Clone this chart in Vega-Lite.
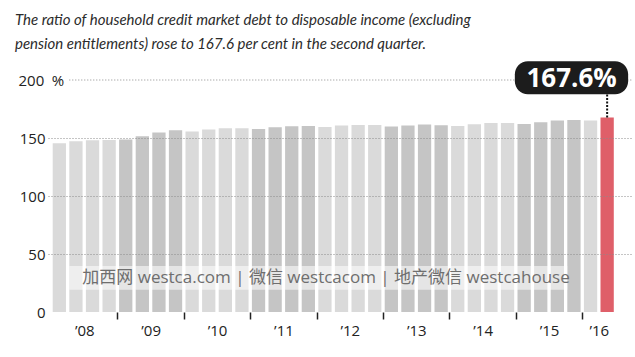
{
  "$schema": "https://vega.github.io/schema/vega-lite/v6.json",
  "width": 584,
  "height": 232,
  "autosize": "none",
  "padding": {"left": 48, "top": 80, "right": 3, "bottom": 45},
  "background": "white",
  "config": {"view": {"stroke": null}},
  "title": {
    "text": ["The ratio of household credit market debt to disposable income (excluding", "pension entitlements) rose to 167.6 per cent in the second quarter."],
    "anchor": "start",
    "frame": "group",
    "dx": -33,
    "dy": 1,
    "font": "Liberation Sans Narrow, Lato",
    "fontStyle": "italic",
    "fontWeight": "normal",
    "fontSize": 15,
    "lineHeight": 24,
    "color": "#2b2b2b",
    "offset": 10
  },
  "data": {
    "values": [
      {"q": "2008Q1", "value": 145.5}, {"q": "2008Q2", "value": 147.2}, {"q": "2008Q3", "value": 148.1}, {"q": "2008Q4", "value": 148.3},
      {"q": "2009Q1", "value": 148.7}, {"q": "2009Q2", "value": 151.5}, {"q": "2009Q3", "value": 154.7}, {"q": "2009Q4", "value": 156.7},
      {"q": "2010Q1", "value": 155.5}, {"q": "2010Q2", "value": 157.3}, {"q": "2010Q3", "value": 158.4}, {"q": "2010Q4", "value": 158.4},
      {"q": "2011Q1", "value": 157.8}, {"q": "2011Q2", "value": 159.3}, {"q": "2011Q3", "value": 160.1}, {"q": "2011Q4", "value": 160.4},
      {"q": "2012Q1", "value": 159.5}, {"q": "2012Q2", "value": 160.7}, {"q": "2012Q3", "value": 161.2}, {"q": "2012Q4", "value": 161.2},
      {"q": "2013Q1", "value": 159.9}, {"q": "2013Q2", "value": 160.7}, {"q": "2013Q3", "value": 161.6}, {"q": "2013Q4", "value": 161.0},
      {"q": "2014Q1", "value": 160.4}, {"q": "2014Q2", "value": 161.8}, {"q": "2014Q3", "value": 163.0}, {"q": "2014Q4", "value": 163.0},
      {"q": "2015Q1", "value": 162.1}, {"q": "2015Q2", "value": 163.6}, {"q": "2015Q3", "value": 165.0}, {"q": "2015Q4", "value": 165.5},
      {"q": "2016Q1", "value": 165.0}, {"q": "2016Q2", "value": 167.6}
    ]
  },
  "layer": [
    {
      "mark": {"type": "bar"},
      "encoding": {
        "x": {
          "field": "q",
          "type": "ordinal",
          "scale": {"paddingInner": 0.2, "paddingOuter": 0.69, "align": 0.205},
          "axis": {
            "title": null,
            "domain": false,
            "grid": false,
            "tickOffset": -8.3,
            "tickSize": 7,
            "tickWidth": 1.5,
            "tickColor": "#222222",
            "tickOpacity": {"condition": {"test": "slice(datum.value,4)=='Q1' && datum.value!='2008Q1'", "value": 1}, "value": 0},
            "labelExpr": "(slice(datum.value,4)=='Q3' || datum.value=='2016Q2') ? '’' + slice(datum.value,2,4) : ''",
            "labelAngle": 0,
            "labelFont": "Open Sans",
            "labelFontSize": 15,
            "labelColor": "#222222",
            "labelPadding": 4,
            "labelOverlap": false
          }
        },
        "y": {
          "field": "value",
          "type": "quantitative",
          "scale": {"domain": [0, 200], "nice": false},
          "axis": {
            "title": null,
            "values": [0, 50, 100, 150, 200],
            "ticks": false,
            "domain": false,
            "labelFont": "Open Sans",
            "labelFontSize": 15,
            "labelColor": "#222222",
            "labelBaseline": "middle",
            "labelPadding": {"condition": {"test": "datum.value==200", "value": 30}, "value": 3},
            "labelAlign": {"condition": {"test": "datum.value==200", "value": "left"}, "value": "right"},
            "labelExpr": "datum.value==200 ? '200\u2002%' : datum.label",
            "grid": true,
            "gridDash": [1, 2],
            "gridColor": "#8a8a8a",
            "gridOpacity": {"condition": {"test": "datum.value>0 && datum.value<200", "value": 1}, "value": 0},
            "zindex": 1
          }
        },
        "color": {
          "condition": [
            {"test": "datum.q=='2016Q2'", "value": "#df5f69"},
            {"test": "toNumber(slice(datum.q,0,4))%2==1", "value": "#c5c5c5"}
          ],
          "value": "#dadada"
        }
      }
    },
    {
      "transform": [{"filter": "datum.q=='2016Q2'"}],
      "mark": {"type": "rule", "strokeDash": [1, 2], "color": "#8a8a8a", "strokeWidth": 1},
      "encoding": {
        "x": {"datum": "2008Q2", "type": "ordinal", "bandPosition": 0},
        "x2": {"value": "width"},
        "y": {"datum": 200, "type": "quantitative"}
      }
    },
    {
      "transform": [{"filter": "datum.q=='2016Q2'"}],
      "mark": {"type": "rect", "color": "white", "opacity": 0.55},
      "encoding": {
        "x": {"datum": "2008Q2", "type": "ordinal", "bandPosition": 0},
        "x2": {"datum": "2015Q4", "bandPosition": 0},
        "y": {"datum": 19.2, "type": "quantitative"},
        "y2": {"datum": 39.6}
      }
    },
    {
      "transform": [{"filter": "datum.q=='2016Q2'"}],
      "mark": {"type": "text", "align": "left", "baseline": "middle", "dx": 13, "fontSize": 17, "font": "Open Sans, Noto Sans CJK SC", "color": "#6e6e6e", "text": "加西网 westca.com | 微信 westcacom | 地产微信 westcahouse"},
      "encoding": {
        "x": {"datum": "2008Q2", "type": "ordinal", "bandPosition": 0},
        "y": {"datum": 29.3, "type": "quantitative"}
      }
    },
    {
      "transform": [{"filter": "datum.q=='2016Q2'"}],
      "mark": {"type": "rule", "strokeDash": [2, 1.5], "color": "#111111", "strokeWidth": 2},
      "encoding": {
        "x": {"field": "q", "type": "ordinal"},
        "y": {"field": "value", "type": "quantitative"},
        "y2": {"datum": 188}
      }
    },
    {
      "transform": [{"filter": "datum.q=='2016Q2'"}],
      "mark": {"type": "point", "filled": true, "opacity": 1, "color": "#1c1c1c", "strokeWidth": 0, "size": 10000,
        "shape": "M-1.586,-0.33 L0.16,-0.33 A0.26,0.26 0 0 1 0.42,-0.07 L0.42,0.07 A0.26,0.26 0 0 1 0.16,0.33 L-1.586,0.33 A0.26,0.26 0 0 1 -1.846,0.07 L-1.846,-0.07 A0.26,0.26 0 0 1 -1.586,-0.33 Z"},
      "encoding": {
        "x": {"field": "q", "type": "ordinal"},
        "y": {"datum": 202, "type": "quantitative"}
      }
    },
    {
      "transform": [{"filter": "datum.q=='2016Q2'"}, {"calculate": "format(datum.value, '.1f') + '%'", "as": "label"}],
      "mark": {"type": "text", "align": "center", "baseline": "middle", "dx": -35.5, "dy": 1, "fontSize": 26, "fontWeight": "bold", "font": "Open Sans", "color": "white"},
      "encoding": {
        "x": {"field": "q", "type": "ordinal"},
        "y": {"datum": 202, "type": "quantitative"},
        "text": {"field": "label"}
      }
    }
  ]
}
